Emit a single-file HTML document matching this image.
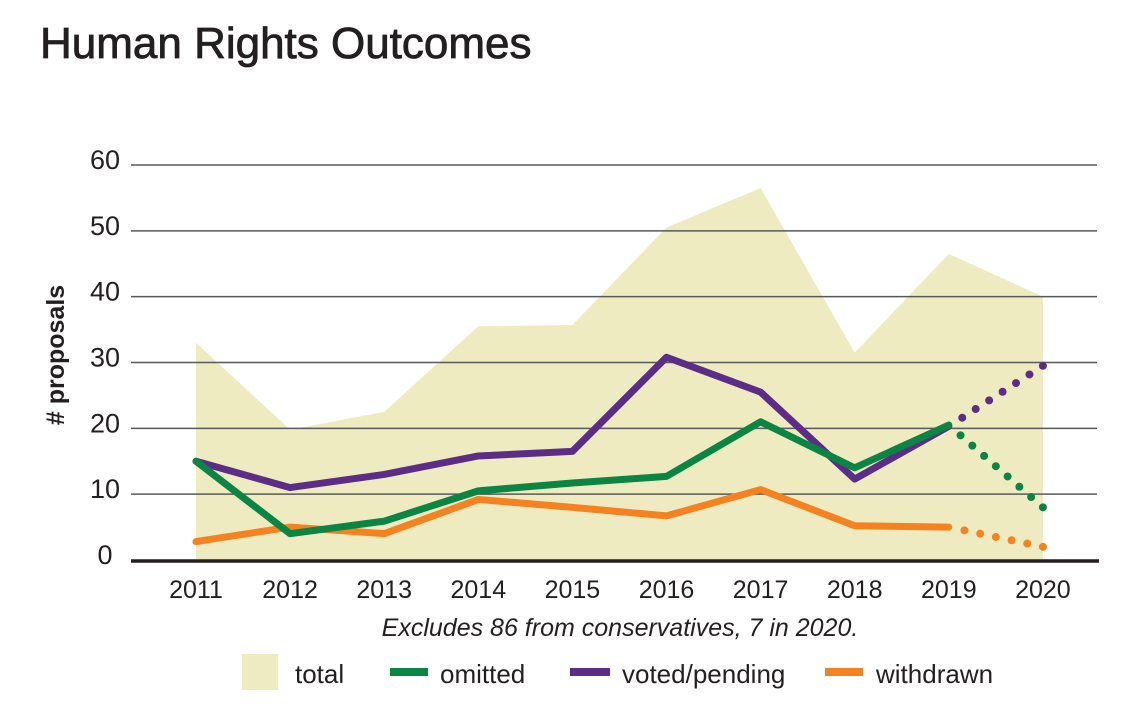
<!DOCTYPE html>
<html><head><meta charset="utf-8"><style>
body{margin:0;background:#fff;}
svg{display:block;font-family:"Liberation Sans Narrow","Liberation Sans",sans-serif;}
</style></head><body>
<svg id="chart" width="1140" height="725" viewBox="0 0 1140 725">
<text x="40" y="58" font-family="Liberation Sans, sans-serif" font-size="44" fill="#231f20" stroke="#231f20" stroke-width="0.8">Human Rights Outcomes</text>
<g id="plot"></g>
<text transform="translate(64,355) rotate(-90)" text-anchor="middle" font-size="25" font-weight="bold" fill="#231f20"># proposals</text>
<text x="620" y="636" text-anchor="middle" font-size="25" font-style="italic" fill="#231f20">Excludes 86 from conservatives, 7 in 2020.</text>
<g>
<rect x="242" y="654" width="36" height="36" fill="#efebc1"/>
<text x="295" y="683" font-size="26" fill="#231f20">total</text>
<line x1="390" y1="672" x2="428" y2="672" stroke="#0a8543" stroke-width="8"/>
<text x="440" y="683" font-size="26" fill="#231f20">omitted</text>
<line x1="570" y1="672" x2="610" y2="672" stroke="#5b2d86" stroke-width="8"/>
<text x="622" y="683" font-size="26" fill="#231f20">voted/pending</text>
<line x1="825" y1="672" x2="863" y2="672" stroke="#f58220" stroke-width="8"/>
<text x="876" y="683" font-size="26" fill="#231f20">withdrawn</text>
</g>
</svg>
<script>
const years = ["2011","2012","2013","2014","2015","2016","2017","2018","2019","2020"];
const total = [33, 19.8, 22.5, 35.5, 35.7, 50.5, 56.5, 31.5, 46.5, 40];
const omitted = [15, 4, 5.9, 10.5, 11.7, 12.7, 21, 14, 20.5, 8];
const voted = [15, 11, 13, 15.8, 16.5, 30.8, 25.5, 12.3, 20.3, 29.5];
const withdrawn = [2.8, 5, 4, 9.2, 8, 6.7, 10.7, 5.2, 5, 2];
const yTicks = [0, 10, 20, 30, 40, 50, 60];

const NS = "http://www.w3.org/2000/svg";
const g = document.getElementById('plot');
const x = i => 196 + i * 94.1;
const y = v => 560 - v * 6.583;
function mk(tag, attrs){const e=document.createElementNS(NS,tag);for(const k in attrs)e.setAttribute(k,attrs[k]);g.appendChild(e);return e;}

let d = `M${x(0)},${y(0)} ` + total.map((v,i)=>`L${x(i)},${y(v)}`).join(' ') + ` L${x(total.length-1)},${y(0)} Z`;
const area = mk('path',{d:d,fill:'#efebc1'});



yTicks.forEach(t=>{
  if(t>0){
    const ln = mk('line',{x1:131,x2:1097,y1:y(t),y2:y(t),stroke:'#58595b','stroke-width':1.5});
    
    
  }
  const tx = mk('text',{x:105,y:y(t)+4,'text-anchor':'middle','font-size':27,fill:'#231f20'});
  tx.textContent = t;
  
  
});
const base = mk('line',{x1:131,x2:1099,y1:561,y2:561,stroke:'#231f20','stroke-width':3.5});



years.forEach((yr,i)=>{
  const tx = mk('text',{x:x(i),y:598,'text-anchor':'middle','font-size':25,fill:'#231f20'});
  tx.textContent = yr;
  
  
});

function series(vals,color,name){
  const n = vals.length;
  const pts = vals.slice(0,n-1).map((v,i)=>`${x(i)},${y(v)}`).join(' ');
  const pl = mk('polyline',{points:pts,fill:'none',stroke:color,'stroke-width':7,'stroke-linejoin':'round','stroke-linecap':'round'});
  
  
  const x1=x(n-2),y1=y(vals[n-2]),x2=x(n-1),y2=y(vals[n-1]);
  const len=Math.hypot(x2-x1,y2-y1);
  const steps=Math.max(1,Math.round(len/15));
  for(let k=1;k<=steps;k++){
    const t=k/steps;
    const c = mk('circle',{cx:x1+(x2-x1)*t,cy:y1+(y2-y1)*t,r:4,fill:color});
    
    
  }
}
series(withdrawn,'#f58220','withdrawn');
series(voted,'#5b2d86','voted-pending');
series(omitted,'#0a8543','omitted');
</script>
</body></html>
